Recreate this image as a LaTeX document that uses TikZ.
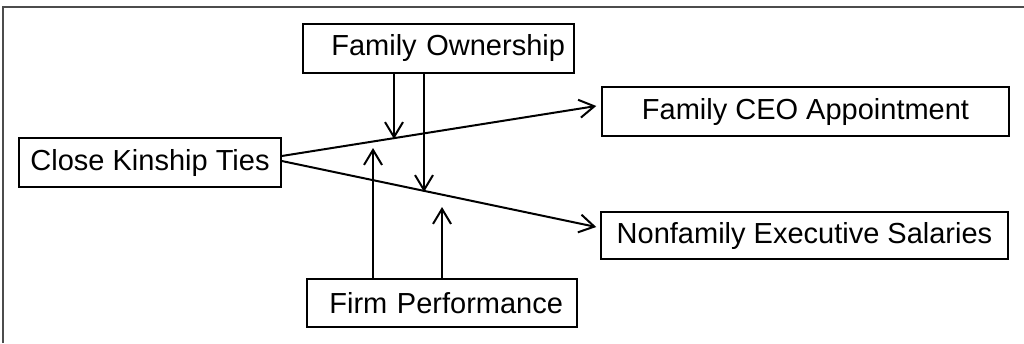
\documentclass[tikz,border=0pt]{standalone}
\usepackage{fontspec}
\setmainfont{Liberation Sans}
\usetikzlibrary{arrows.meta}
\tikzset{
	box/.style={draw, line width=1.5pt, inner sep=0pt, minimum height=49pt,
		font=\fontsize{29}{34}\selectfont},
	link/.style={line width=2pt, -{Straight Barb[length=15pt,width=18pt,line width=2pt]}}
}

\begin{document}
\begin{tikzpicture}[x=1pt, y=-1pt]
	\useasboundingbox (0,0) rectangle (1024,343);
	
	% Frame
	\draw[gray!60!black, line width=2pt] (3,343) -- (3,7) -- (1024,7);
	
	% Boxes
	\node[box, minimum width=262pt] (kin) at (150,162.5) {Close Kinship Ties};
	\node[box, text width=253pt, inner xsep=9pt, align=right] (own) at (438.5,48.5) {Family Ownership};
	\node[box, minimum width=407pt] (ceo) at (805.5,111.5) {Family CEO Appointment};
	\node[box, minimum width=407pt, minimum height=47pt] (sal) at (804.5,235.5) {Nonfamily Executive Salaries};
	\node[box, text width=242pt, inner xsep=14pt, align=right, minimum height=48pt] (perf) at (442,303) {Firm Performance};
	
	% Main paths
	\draw[link] ([yshift=6.5pt]kin.east) -- ([xshift=-5pt,yshift=5.5pt]ceo.west);
	\draw[link] ([yshift=1.5pt]kin.east) -- ([xshift=-4pt,yshift=8.5pt]sal.west);
	
	% Moderating arrows
	\coordinate (ownA) at (394,139);
	\coordinate (ownB) at (424,192);
	\coordinate (perfA) at (373,148);
	\coordinate (perfB) at (442,207);
	\foreach \m in {ownA, ownB} {
		\draw[link] (own.south -| \m) -- (\m);
	}
	\foreach \m in {perfA, perfB} {
		\draw[link] (perf.north -| \m) -- (\m);
	}
	
\end{tikzpicture}
\end{document}
